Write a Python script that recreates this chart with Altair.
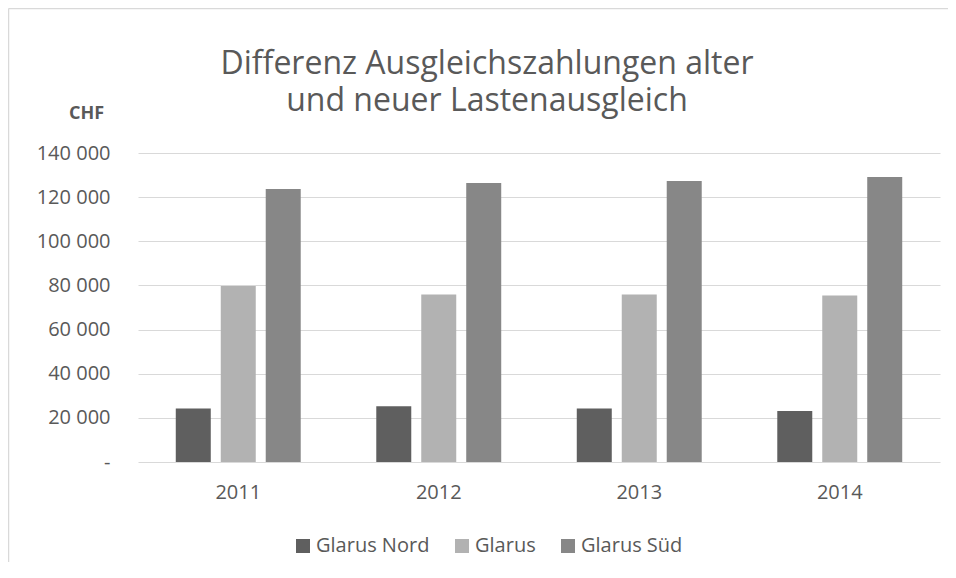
import altair as alt
import pandas as pd

years = ["2011", "2012", "2013", "2014"]
series = ["Glarus Nord", "Glarus", "Glarus Süd"]
glarus_nord = [24200, 25300, 24200, 23100]
glarus = [79700, 75900, 75900, 75400]
glarus_sued = [123700, 126400, 127300, 129100]
colors = ["#5f5f5f", "#b2b2b2", "#878787"]
y_ticks = [0, 20000, 40000, 60000, 80000, 100000, 120000, 140000]
title_lines = ["Differenz Ausgleichszahlungen alter", "und neuer Lastenausgleich"]

rows = []
for i, yr in enumerate(years):
    for s, vals in zip(series, [glarus_nord, glarus, glarus_sued]):
        rows.append({"Jahr": yr, "Gemeinde": s, "CHF": vals[i]})
df = pd.DataFrame(rows)

font = "Open Sans"
txt = "#595959"
grid = "#d9d9d9"

bars = alt.Chart(df).mark_bar().encode(
    x=alt.X("Jahr:N", sort=years,
            scale=alt.Scale(paddingInner=0.327, paddingOuter=0.1635),
            axis=alt.Axis(title=None, labelAngle=0, domain=False, ticks=False, grid=False,
                          labelPadding=20, labelFontSize=20, labelColor=txt, labelFont=font)),
    xOffset=alt.XOffset("Gemeinde:N", sort=series,
                        scale=alt.Scale(paddingInner=0.222, paddingOuter=0.111)),
    y=alt.Y("CHF:Q", scale=alt.Scale(domain=[0, 140000], nice=False),
            axis=alt.Axis(values=y_ticks,
                          labelExpr="datum.value == 0 ? '-' : format(datum.value/1000,'d') + ' 000'",
                          title="CHF", titleAngle=0, titleX=-52, titleY=-40,
                          titleAlign="center", titleBaseline="middle",
                          titleFontWeight="bold", titleFontSize=18, titleColor=txt, titleFont=font,
                          grid=True, gridColor=grid, gridWidth=1, domain=False, ticks=False,
                          labelPadding=28, labelFontSize=20, labelColor=txt, labelFont=font)),
    color=alt.Color("Gemeinde:N", sort=series,
                    scale=alt.Scale(domain=series, range=colors),
                    legend=alt.Legend(title=None, orient="none", legendX=155, legendY=383,
                                      direction="horizontal", columns=3, symbolType="square",
                                      symbolSize=196, symbolStrokeWidth=0, symbolOpacity=1,
                                      labelFontSize=20, labelFont=font, labelColor=txt,
                                      columnPadding=22, labelOffset=3)),
)

frame_data = alt.Data(values=[{"k": 1}])
top_line = alt.Chart(frame_data).mark_rule(color=grid, strokeWidth=1.5).encode(
    x=alt.value(-129.5), x2=alt.value(810), y=alt.value(-144.5))
left_line = alt.Chart(frame_data).mark_rule(color=grid, strokeWidth=1.5).encode(
    x=alt.value(-129.5), y=alt.value(-144.5), y2=alt.value(420))

title1 = alt.Chart(frame_data).mark_text(
    font=font, fontSize=32, color=txt, align="center", baseline="middle").encode(
    x=alt.value(349), y=alt.value(-89), text=alt.value(title_lines[0]))
title2 = alt.Chart(frame_data).mark_text(
    font=font, fontSize=32, color=txt, align="center", baseline="middle").encode(
    x=alt.value(349), y=alt.value(-52), text=alt.value(title_lines[1]))

chart = alt.layer(top_line, left_line, title1, title2, bars).properties(
    width=802, height=309,
    autosize=alt.AutoSizeParams(type="none"),
    padding={"left": 130, "top": 145, "right": 8, "bottom": 100},
).configure_view(stroke=None)

chart.save("out.html", embed_options={"renderer": "svg", "actions": False})
